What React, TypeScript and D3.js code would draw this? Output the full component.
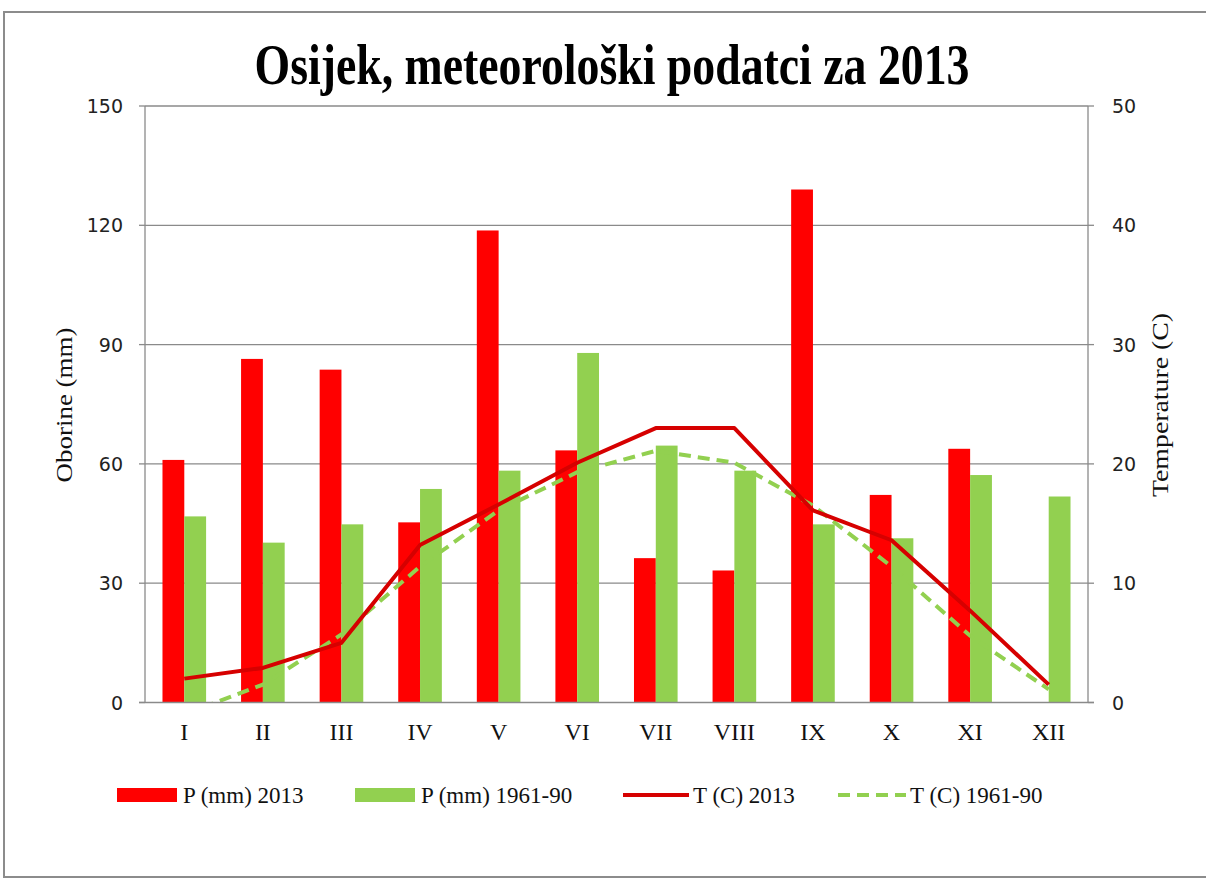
import * as d3 from 'd3';
import React, { useLayoutEffect, useRef, useState } from 'react';

// monthly data, Osijek
const months = ['I', 'II', 'III', 'IV', 'V', 'VI', 'VII', 'VIII', 'IX', 'X', 'XI', 'XII'];
const precip2013 = [61.0, 86.4, 83.7, 45.3, 118.7, 63.4, 36.3, 33.2, 129.0, 52.2, 63.8, 0];
const precipNormal = [46.8, 40.2, 44.8, 53.7, 58.3, 87.9, 64.6, 58.3, 44.8, 41.3, 57.2, 51.8];
const temp2013 = [2.0, 2.9, 5.0, 13.2, 16.6, 20.1, 23.0, 23.0, 16.1, 13.6, 7.7, 1.5];
const tempNormal = [-1.0, 1.5, 5.7, 11.4, 16.1, 19.3, 21.1, 20.1, 16.5, 11.4, 5.6, 1.1];
const precipTicks = [0, 30, 60, 90, 120, 150];
const tempTicks = [0, 10, 20, 30, 40, 50];

const W = 1206;
const H = 880;
const left = 145;
const right = 1088;
const top = 106;
const bottom = 702.5;

const RED = '#ff0000';
const GREEN = '#92d050';
const LINE_RED = '#d60000';
const GRID = '#8a8a8a';
const serif = '"Liberation Serif", "Times New Roman", serif';
const sans = '"DejaVu Sans", sans-serif';

export default function App() {
  const titleRef = useRef<SVGTextElement>(null);
  const [titleScale, setTitleScale] = useState(0.72);

  // title is drawn condensed: squeeze it to the width it has in the picture
  useLayoutEffect(() => {
    if (titleRef.current) {
      const len = titleRef.current.getComputedTextLength();
      if (len > 0) setTitleScale(715 / len);
    }
  }, []);

  const x0 = d3.scaleBand<string>().domain(months).range([left, right]).paddingInner(0.445).paddingOuter(0.2225);
  const x1 = d3.scaleBand<number>().domain([0, 1]).range([0, x0.bandwidth()]);
  const yP = d3.scaleLinear().domain([0, 150]).range([bottom, top]);
  const yT = d3.scaleLinear().domain([0, 50]).range([bottom, top]);

  const cx = (i: number) => (x0(months[i]) as number) + x0.bandwidth() / 2;
  const line = d3.line<number>().x((_, i) => cx(i)).y(d => yT(d));

  const series = [precip2013, precipNormal];
  const colors = [RED, GREEN];

  return (
    <div style={{ position: 'absolute', left: 0, top: 0 }}>
      <svg width={W} height={H} style={{ display: 'block', background: '#fff' }}>
        <defs>
          <clipPath id="plot">
            <rect x={left} y={top} width={right - left} height={bottom - top} />
          </clipPath>
        </defs>
        <rect x={4} y={12} width={1220} height={865} fill="#fff" stroke="#8c8c8c" strokeWidth={2} />

        <g transform={`translate(612,84) scale(${titleScale},1)`}>
          <text ref={titleRef} x={0} y={0} textAnchor="middle" fontFamily={serif} fontWeight="bold" fontSize={56} fill="#000">
            Osijek, meteorološki podatci za 2013
          </text>
        </g>

        {/* gridlines */}
        {precipTicks.filter(t => t > 0).map(t => (
          <line key={t} x1={left} x2={right} y1={yP(t)} y2={yP(t)} stroke={GRID} strokeWidth={1.3} />
        ))}

        {/* bars */}
        {series.map((vals, s) => vals.map((v, i) => (
          <rect key={s + '-' + i} x={(x0(months[i]) as number) + (x1(s) as number)} y={yP(v)}
            width={x1.bandwidth()} height={bottom - yP(v)} fill={colors[s]} />
        )))}

        {/* temperature lines */}
        <g clipPath="url(#plot)">
          <path d={line(tempNormal) as string} fill="none" stroke={GREEN} strokeWidth={4} strokeDasharray="12 7" />
          <path d={line(temp2013) as string} fill="none" stroke={LINE_RED} strokeWidth={4} strokeLinejoin="round" />
        </g>

        {/* axes */}
        <line x1={left} x2={left} y1={top} y2={bottom} stroke={GRID} strokeWidth={1.3} />
        <line x1={right} x2={right} y1={top} y2={bottom} stroke={GRID} strokeWidth={1.3} />
        <line x1={left - 6} x2={right + 6} y1={bottom} y2={bottom} stroke={GRID} strokeWidth={1.3} />
        {precipTicks.map(t => (
          <g key={'l' + t}>
            <line x1={left - 6} x2={left} y1={yP(t)} y2={yP(t)} stroke={GRID} strokeWidth={1.3} />
            <text x={123} y={yP(t) + 7} textAnchor="end" fontFamily={sans} fontSize={19} fill="#222">{t}</text>
          </g>
        ))}
        {tempTicks.map(t => (
          <g key={'r' + t}>
            <line x1={right} x2={right + 6} y1={yT(t)} y2={yT(t)} stroke={GRID} strokeWidth={1.3} />
            <text x={1112} y={yT(t) + 7} textAnchor="start" fontFamily={sans} fontSize={19} fill="#222">{t}</text>
          </g>
        ))}
        {months.map((m, i) => (
          <text key={m} x={cx(i)} y={740} textAnchor="middle" fontFamily={serif} fontSize={24} fill="#111">{m}</text>
        ))}

        <text transform={`translate(72,405) rotate(-90)`} textAnchor="middle" fontFamily={serif} fontSize={24}
          textLength={155} lengthAdjust="spacingAndGlyphs" fill="#111">
          Oborine (mm)
        </text>
        <text transform={`translate(1168,405) rotate(-90)`} textAnchor="middle" fontFamily={serif} fontSize={24}
          textLength={184} lengthAdjust="spacingAndGlyphs" fill="#111">
          Temperature (C)
        </text>

        {/* legend */}
        <rect x={117} y={788} width={60} height={14} fill={RED} />
        <text x={183} y={803} fontFamily={serif} fontSize={23} fill="#111">P (mm) 2013</text>
        <rect x={355} y={788} width={60} height={14} fill={GREEN} />
        <text x={421} y={803} fontFamily={serif} fontSize={23} fill="#111">P (mm) 1961-90</text>
        <line x1={623} x2={689} y1={795} y2={795} stroke={LINE_RED} strokeWidth={4} />
        <text x={693} y={803} fontFamily={serif} fontSize={23} fill="#111">T (C) 2013</text>
        <line x1={838} x2={906} y1={795} y2={795} stroke={GREEN} strokeWidth={4} strokeDasharray="12 7" />
        <text x={910} y={803} fontFamily={serif} fontSize={23} fill="#111">T (C) 1961-90</text>
      </svg>
    </div>
  );
}
